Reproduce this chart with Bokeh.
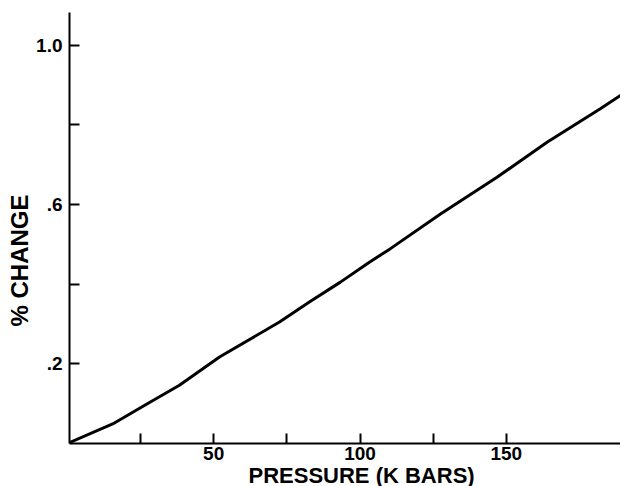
from bokeh.plotting import figure
from bokeh.models import FixedTicker, Range1d, Title
from bokeh.embed import file_html
from bokeh.resources import INLINE

# Data
pressure = [0, 15.5, 26.9, 38.3, 52.0, 72.5, 82.7, 93.3, 103.2, 110.4, 127.5, 146.8, 163.9, 182.1, 189.5]
pct_change = [0.0, 0.049, 0.098, 0.146, 0.217, 0.305, 0.355, 0.405, 0.455, 0.489, 0.576, 0.668, 0.756, 0.840, 0.876]

x_ticks = [25, 50, 75, 100, 125, 150]
x_tick_labels = ["", "50", "", "100", "", "150"]
y_ticks = [0.2, 0.4, 0.6, 0.8, 1.0]
y_tick_labels = [".2", "", ".6", "", "1.0"]

x_title = "PRESSURE (K BARS)"
y_title = "% CHANGE"

FONT = "Liberation Sans"

p = figure(width=620, height=486, output_backend="svg", toolbar_location=None,
           x_range=Range1d(0.75, 189.0), y_range=Range1d(0, 1.0816),
           min_border_left=69, min_border_right=0, min_border_top=12, min_border_bottom=43)
p.outline_line_color = None
p.background_fill_color = "white"
p.border_fill_color = "white"
p.grid.visible = False

p.line(pressure, pct_change, line_color="black", line_width=3)

for ax in (p.xaxis[0], p.yaxis[0]):
    ax.axis_line_color = "black"
    ax.axis_line_width = 2
    ax.major_tick_line_color = "black"
    ax.major_tick_line_width = 2
    ax.major_tick_in = 10
    ax.major_tick_out = 0
    ax.minor_tick_line_color = None
    ax.major_label_text_font = FONT
    ax.major_label_text_font_style = "bold"
    ax.major_label_text_font_size = "19px"
    ax.major_label_text_color = "black"

p.xaxis[0].ticker = FixedTicker(ticks=x_ticks)
p.xaxis[0].major_label_overrides = dict(zip(x_ticks, x_tick_labels))
p.xaxis[0].major_label_standoff = 3

p.yaxis[0].ticker = FixedTicker(ticks=y_ticks)
p.yaxis[0].major_label_overrides = dict(zip(y_ticks, y_tick_labels))
p.yaxis[0].major_label_standoff = 7

p.add_layout(Title(text=x_title, align="left", offset=179, standoff=-4,
                   text_font=FONT, text_font_style="bold", text_font_size="22px",
                   text_color="black"), "below")
p.add_layout(Title(text=y_title, align="left", offset=117, standoff=1,
                   text_font=FONT, text_font_style="bold", text_font_size="24px",
                   text_color="black"), "left")

open("out.html", "w").write(file_html(p, INLINE))
